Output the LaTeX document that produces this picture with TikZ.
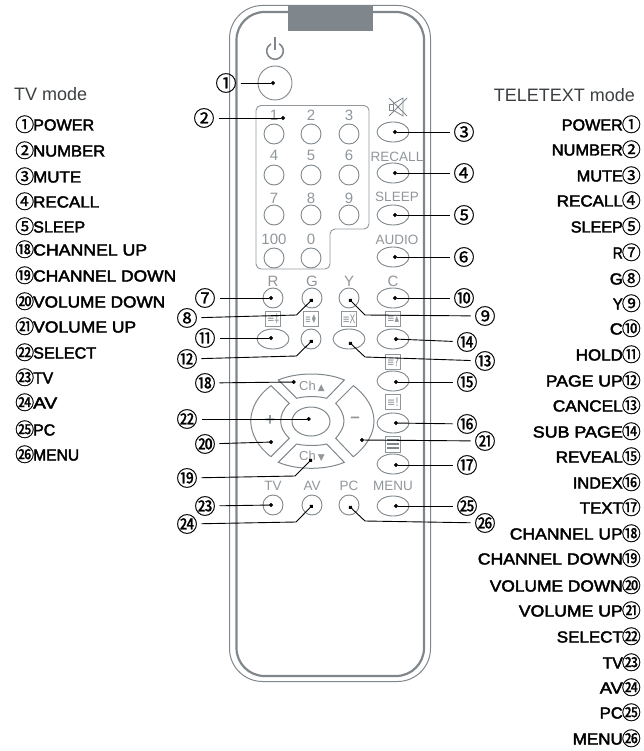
\documentclass[tikz,border=0pt]{standalone}
\usepackage{fontspec}
\usepackage{graphicx}
\setmainfont{Liberation Sans}
\newfontfamily\cjkc[FakeBold=0.8]{Noto Sans CJK SC}
\newfontfamily\heavy[FakeBold=2.5]{Liberation Sans}
\newfontfamily\dejav{DejaVu Sans}
\usetikzlibrary{arrows.meta,shapes.geometric}
\definecolor{rg}{HTML}{7F878C}
\definecolor{lg}{HTML}{90969A}
\definecolor{tg}{HTML}{3C3F41}
\newcommand{\px}[1]{\fontsize{#1}{#1}\selectfont}
\newcommand{\fit}[2]{\resizebox{#1pt}{\height}{#2}}
\tikzset{
  x=1pt,y=-1pt,
  btn/.style={draw=rg,line width=0.9pt,circle,minimum size=20pt,inner sep=0pt},
  ebtn/.style={draw=rg,line width=0.9pt,ellipse,minimum width=32pt,minimum height=20pt,inner sep=0pt},
  capt/.style={text=lg,inner sep=0pt,font=\px{13.5}},
  digit/.style={capt,font=\px{15}},
  icon/.style={draw=lg,line width=0.7pt,minimum size=15pt,inner sep=0pt,text=lg,font=\dejav\px{12}},
  num/.style={inner sep=0pt,minimum size=19pt,circle,font=\cjkc\px{21},text=black},
  conn/.style={draw=black,line width=0.9pt,-{Circle[length=4pt,width=4pt]}},
  padkey/.style={draw=rg,line width=1pt},
  ltxt/.style={inner sep=0pt,text=black,font=\heavy\px{16}},
  headtxt/.style={inner sep=0pt,text=tg,font=\px{18}},
}
\begin{document}
\begin{tikzpicture}
\path[use as bounding box] (0,0) rectangle (643,751);
% body
\draw[rg,line width=1pt,rounded corners=33pt] (229.5,5.5) rectangle (430.5,681.5);
\draw[rg,line width=2.2pt,rounded corners=28pt] (236.5,12) rectangle (424,676);
\fill[rg] (288,5) rectangle (373,31);
% power icon
\draw[rg,line width=1.6pt] (279.15,43.8) arc[start angle=60,end angle=-240,radius=8.3pt];
\draw[rg,line width=1.6pt] (275,37) -- (275,50);
\node[draw=rg,line width=0.9pt,circle,minimum size=34pt,inner sep=0pt] (bpower) at (275,83) {};
% number panel
\draw[lg,line width=0.9pt,rounded corners=5pt] (256,105.5) -- (369,105.5) -- (369,229) -- (330,229) -- (330,269) -- (256,269) -- cycle;
% digit buttons
\foreach \nm/\xx/\yy/\ly/\lab in {1/274/134/115/1,2/311/134/115/2,3/349/134/115/3,4/274/175/155/4,5/311/175/155/5,6/349/175/155/6,7/274/215/198/7,8/311/215/198/8,9/349/215/198/9,h/274/258/239/100,z/311/258/239/0}{
  \node[btn] (b\nm) at (\xx,\yy) {};
  \node[digit] (c\nm) at (\xx,\ly) {\lab};
}
% mute icon
\draw[rg,line width=0.8pt] (389,104) rectangle (393,110);
\draw[rg,line width=0.8pt] (393,104) -- (403,98) -- (403,116) -- (393,110);
\draw[rg,line width=0.8pt] (389,98) -- (407,116) (407,98) -- (389,116);
% right column buttons
\foreach \nm/\yy in {mute/132,recall/173,sleep/215,audio/257,c/298,sub/339,rev/381,idx/423,txt/464,menu/506}{
  \node[ebtn] (b\nm) at (393,\yy) {};
}
\node[capt] (crecall) at (397,157) {RECALL};
\node[capt] (csleep) at (397,197) {SLEEP};
\node[capt] (caudio) at (397,240) {AUDIO};
% colour row
\foreach \nm/\xx/\lab in {r/273/R,g/312/G,y/349/Y}{
  \node[btn] (b\nm) at (\xx,298) {};
  \node[capt,font=\px{15}] (c\nm) at (\xx,281) {\lab};
}
\node[capt,font=\px{15}] (cc) at (393,281) {C};
% icon row
\node[icon] (i1) at (273,319) {\fit{12}{≡‡}};
\node[icon] (i2) at (311,319) {\fit{12}{≡♦}};
\node[icon] (i3) at (349,319) {\fit{13}{≡X}};
\node[icon] (i4) at (393,319) {\fit{12}{≡▴}};
\node[ebtn] (bhold) at (273,339) {};
\node[btn] (bpage) at (311,339) {};
\node[ebtn] (bcancel) at (349,339) {};
\node[icon] (i5) at (393,362) {\fit{12}{≡?}};
\node[icon] (i6) at (393,402) {\fit{12}{≡!}};
\node[icon,minimum height=16pt] (i7) at (393,444) {};
\foreach \yy in {440,444,448}{\draw[rg,line width=1.2pt] (387,\yy) -- (399,\yy);}
% d-pad
\draw[padkey] (278.3,380) .. controls (297,372) and (326,372) .. (344.3,380) -- (326.7,398.3) .. controls (318,396) and (305,396) .. (296.7,398.3) -- cycle;
\draw[padkey] (278.3,462.3) .. controls (297,470.3) and (326,470.3) .. (344.3,462.3) -- (326.7,444) .. controls (318,446) and (305,446) .. (296.7,444) -- cycle;
\draw[padkey] (271,385.7) .. controls (258,395) and (251,408) .. (250.7,421) .. controls (251,434) and (258,447) .. (271,456.7) -- (289.3,438.3) .. controls (283,432) and (280.7,427) .. (280.7,421) .. controls (280.7,415) and (283,409) .. (289.3,403.3) -- cycle;
\draw[padkey] (353.3,385.7) .. controls (366,395) and (374,408) .. (374,421) .. controls (374,434) and (366,447) .. (353.3,456.7) -- (335.7,438.3) .. controls (341,432) and (344,427) .. (344,421) .. controls (344,415) and (341,409) .. (335.7,403.3) -- cycle;
\node[draw=rg,line width=1pt,ellipse,minimum width=38pt,minimum height=29pt,inner sep=0pt] (bok) at (311,421.5) {};
\node[capt,font=\px{13}] (cup) at (312,386) {Ch\,{\dejav\px{9}▲}};
\node[capt,font=\px{13}] (cdown) at (312,456.5) {Ch\,{\dejav\px{9}▼}};
\node[capt,font=\bfseries\px{17}] (cplus) at (270,421) {+};
\node[capt,font=\bfseries\px{17}] (cminus) at (355,420) {–};
% bottom row
\foreach \nm/\xx/\lab in {tv/273/TV,av/312/AV,pc/349/PC}{
  \node[btn] (b\nm) at (\xx,505) {};
  \node[capt] (c\nm) at (\xx,486) {\lab};
}
\node[capt] (cmenu) at (393,486) {MENU};
% anchors of connectors
\foreach \nm/\xx/\yy in {1/275/83,2/285/118,3/393/132,4/393/173,5/393/215,6/393/257,7/273/298,8/312.7/299,9/349/299,10/393/298,11/273/338,12/312.7/340,13/349/342,14/394/339,15/394/382,16/394/423,17/394/465,18/295.7/382,19/312/459,20/273/442,21/360/440,22/310.7/419,23/273/505,24/312.7/505,25/394/506,26/349/506}{
  \coordinate (d\nm) at (\xx,\yy);
}
\coordinate (k8) at (296.5,315);
\coordinate (k12) at (296.5,356);
\coordinate (k19) at (295,476);
\coordinate (k24) at (296,522);
\coordinate (k9) at (365,315);
\coordinate (k13) at (365,357);
\coordinate (k26) at (365,521);
% numbered callouts
\node[num] (n1) at (226,83) {①};
\node[num] (n2) at (204,118) {②};
\node[num] (n3) at (464,132) {③};
\node[num] (n4) at (464,173) {④};
\node[num] (n5) at (464,215) {⑤};
\node[num] (n6) at (464,257) {⑥};
\node[num] (n7) at (205,298) {⑦};
\node[num] (n8) at (187,318) {⑧};
\node[num] (n9) at (485,316) {⑨};
\node[num] (n10) at (464,298) {⑩};
\node[num] (n11) at (205,338) {⑪};
\node[num] (n12) at (187,359) {⑫};
\node[num] (n13) at (485,361) {⑬};
\node[num] (n14) at (467,342) {⑭};
\node[num] (n15) at (467,382) {⑮};
\node[num] (n16) at (467,424) {⑯};
\node[num] (n17) at (467,465) {⑰};
\node[num] (n18) at (205,383) {⑱};
\node[num] (n19) at (187,478) {⑲};
\node[num] (n20) at (205,444) {⑳};
\node[num] (n21) at (485,441) {㉑};
\node[num] (n22) at (187,419) {㉒};
\node[num] (n23) at (205,506) {㉓};
\node[num] (n24) at (187,524) {㉔};
\node[num] (n25) at (467,506) {㉕};
\node[num] (n26) at (485,523) {㉖};
\foreach \i in {1,2,7,11,18,20,22,23}{\draw[conn] (n\i) -- (d\i);}
\foreach \i in {3,4,5,6,10,14,15,16,17,25,21}{\draw[conn] (n\i) -- (d\i);}
\foreach \i in {8,12,19,24,9,13,26}{\draw[conn] (n\i) -- (k\i) -- (d\i);}
% left list
\node[headtxt,anchor=base west] (hl) at (14,101) {TV mode};
\foreach \yy/\g/\w/\t in {125/①/61/POWER,151/②/72/NUMBER,177/③/48/MUTE,202/④/66/RECALL,227/⑤/52/SLEEP,250/⑱/114/CHANNEL UP,276/⑲/143/CHANNEL DOWN,302/⑳/132/VOLUME DOWN,327/㉑/103/VOLUME UP,353/㉒/63/SELECT,378/㉓/20/TV,403/㉔/24/AV,430/㉕/22/PC,455/㉖/46/MENU}{
  \node[ltxt,anchor=base west] (l\yy) at (15,\yy+5.5) {\makebox[18pt][l]{\cjkc\px{19}\raisebox{-1pt}{\g}}\fit{\w}{\t}};
}
% right list
\node[headtxt,anchor=base east] (hr) at (635,102) {TELETEXT mode};
\foreach \yy/\g/\w/\t in {125/①/61/POWER,150/②/71/NUMBER,176/③/46/MUTE,201/④/66/RECALL,227/⑤/52/SLEEP,253/⑦/10/R,279/⑧/13/G,304/⑨/10/Y,329/⑩/13/C,355/⑪/47/HOLD,381/⑫/77/PAGE UP,406/⑬/70/CANCEL,432/⑭/90/SUB PAGE,457/⑮/67/REVEAL,483/⑯/50/INDEX,508/⑰/43/TEXT,534/⑱/113/CHANNEL UP,559/⑲/145/CHANNEL DOWN,586/⑳/133/VOLUME DOWN,611/㉑/104/VOLUME UP,637/㉒/66/SELECT,663/㉓/20/TV,688/㉔/23/AV,713/㉕/23/PC,739/㉖/50/MENU}{
  \node[ltxt,anchor=base east] (r\yy) at (641,\yy+5.5) {\fit{\w}{\t}\makebox[18pt][r]{\cjkc\px{19}\raisebox{-1pt}{\g}}};
}
\end{tikzpicture}
\end{document}
